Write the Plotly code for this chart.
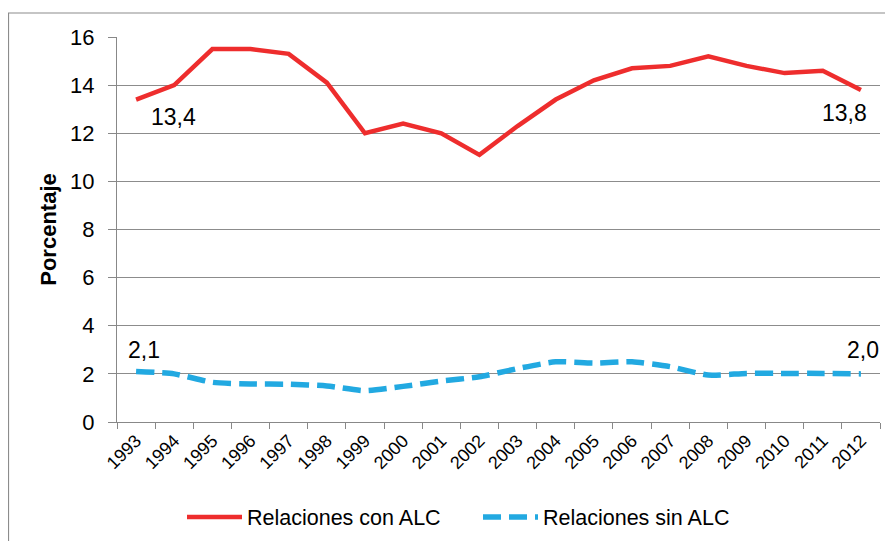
import plotly.graph_objects as go

years = [str(y) for y in range(1993, 2013)]
con_alc = [13.4, 14.0, 15.5, 15.5, 15.3, 14.1, 12.0, 12.4, 12.0, 11.1,
           12.3, 13.4, 14.2, 14.7, 14.8, 15.2, 14.8, 14.5, 14.6, 13.8]
sin_alc = [2.1, 2.0, 1.65, 1.58, 1.57, 1.5, 1.3, 1.48, 1.7, 1.88,
           2.22, 2.5, 2.45, 2.5, 2.3, 1.95, 2.02, 2.02, 2.02, 2.0]
y_ticks = [0, 2, 4, 6, 8, 10, 12, 14, 16]

# page has an 8px body margin, so the figure is drawn 8px smaller
W, H = 885, 533
L, R, T, B = 109, 13, 29, 119
pw, ph = W - L - R, H - T - B
FONT = "Liberation Sans, Arial, sans-serif"

fig = go.Figure()
fig.add_trace(go.Scatter(
    x=years, y=con_alc, mode="lines", name="Relaciones con ALC",
    line=dict(color="#EE2D2D", width=4.5)))
fig.add_trace(go.Scatter(
    x=years, y=sin_alc, mode="lines", name="Relaciones sin ALC",
    line=dict(color="#22A9E1", width=5.5, dash="18px,8px", shape="spline", smoothing=0.6)))

def lab(text, idx, y, dx, dy):
    fig.add_annotation(x=idx, y=y, xref="x", yref="y", text=text, showarrow=False,
                       xshift=dx, yshift=dy, font=dict(size=23, color="#000", family=FONT))

last = len(years) - 1
lab("13,4", 0, con_alc[0], 37, -17)
lab("13,8", last, con_alc[-1], -16, -23)
lab("2,1", 0, sin_alc[0], 8, 21)
lab("2,0", last, sin_alc[-1], 2, 24)

def px_x(p):
    return (p - L) / pw

def px_y(p):
    return (H - B - p) / ph

fig.add_shape(type="rect", xref="paper", yref="paper",
              x0=px_x(0.5), x1=px_x(884), y0=px_y(560), y1=px_y(5),
              line=dict(color="#8C8C8C", width=1.2), layer="below")

fig.update_layout(
    width=W, height=H,
    margin=dict(l=L, r=R, t=T, b=B, autoexpand=False),
    paper_bgcolor="white", plot_bgcolor="white",
    font=dict(family=FONT, color="#000"),
    showlegend=True,
    legend=dict(orientation="h", x=174 / W, xanchor="left", xref="container",
                y=1 - 509 / H, yanchor="middle", yref="container",
                font=dict(size=21.5, family=FONT), itemwidth=55, tracegroupgap=0,
                entrywidth=226, bgcolor="rgba(0,0,0,0)"),
)
fig.update_xaxes(
    type="category", tickson="boundaries", tickangle=-45, automargin=False,
    ticks="outside", ticklen=6, tickcolor="#888", showline=True, linecolor="#888", linewidth=1.2,
    showgrid=False, tickfont=dict(size=18, family=FONT), range=[-0.5, 19.5])
fig.update_yaxes(
    range=[0, 16], tickvals=y_ticks, ticks="outside", ticklen=8, tickcolor="#888",
    showline=True, linecolor="#888", linewidth=1.2, automargin=False,
    showgrid=True, gridcolor="#8C8C8C", gridwidth=1.2, ticklabelstandoff=9,
    tickfont=dict(size=22, family=FONT), zeroline=False,
    title=dict(text="<b>Porcentaje</b>", font=dict(size=22, family=FONT), standoff=7))

fig.write_html("out.html")
